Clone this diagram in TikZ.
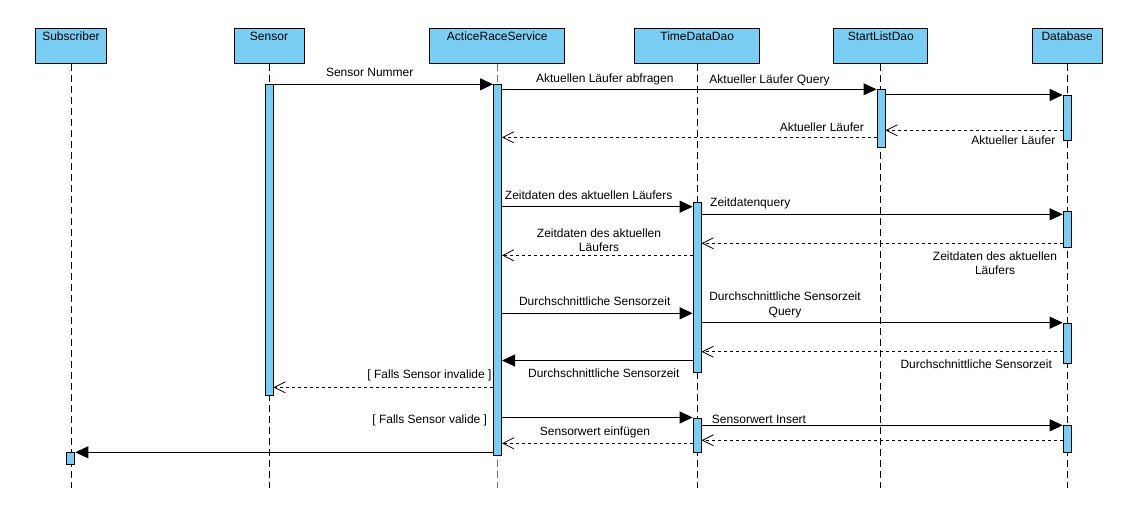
\documentclass[tikz,border=0pt]{standalone}
\usepackage{fontspec}
\setmainfont{Liberation Sans}
\usepackage{tikz}
\usetikzlibrary{arrows.meta}

\definecolor{lifeblue}{RGB}{122,206,244}

\tikzset{
  lane/.style={draw, fill=lifeblue, line width=1pt, anchor=north west, inner sep=0pt, minimum height=35pt, text height=12pt, text depth=23pt},
  act/.style={draw, fill=lifeblue, line width=1pt, anchor=north west, inner sep=0pt, minimum width=8pt},
  life/.style={line width=1pt, dash pattern=on 7pt off 4pt},
  call/.style={line width=1pt, -{Triangle[length=13pt,width=12pt]}},
  reply/.style={line width=0.8pt, dash pattern=on 3pt off 3pt, -{Straight Barb[length=11pt,width=11pt]}},
  msg/.style={inner sep=0pt, anchor=base},
  msgtwo/.style={inner sep=0pt, anchor=north, align=center},
}

\begin{document}
\begin{tikzpicture}[x=1pt, y=-1pt, font=\fontsize{12}{14.4}\selectfont]
\fill[white] (0,0) rectangle (1137,526);
\useasboundingbox (0,0) rectangle (1137,526);

\node[lane, minimum width=71pt] (sub) at (35,28.3) {Subscriber};
\node[lane, minimum width=70pt] (sen) at (233.5,28.3) {Sensor};
\node[lane, minimum width=135pt] (ars) at (429.3,28.3) {ActiceRaceService};
\node[lane, minimum width=124.5pt] (tdd) at (634.4,28.3) {TimeDataDao};
\node[lane, minimum width=94pt] (sld) at (833.3,28.3) {StartListDao};
\node[lane, minimum width=70pt] (db) at (1031.7,28.3) {Database};

\coordinate (end) at (0,488);
\draw[life] (sub.south) -- (sub.south |- end);
\draw[life] (sen.south) -- (sen.south |- end);
\draw[life, black!55] (ars.south) -- (ars.south |- end);
\draw[life] (tdd.south) -- (tdd.south |- end);
\draw[life] (sld.south) -- (sld.south |- end);
\draw[life] (db.south) -- (db.south |- end);

\node[act, minimum height=12pt] (sub1) at (66.3,452.3) {};
\node[act, minimum height=310.7pt] (sen1) at (264.5,84.3) {};
\node[act, minimum height=371pt] (ars1) at (493,84.3) {};
\node[act, minimum height=57.4pt] (sld1) at (876.5,89.3) {};
\node[act, minimum height=45.3pt] (db1) at (1062.7,95) {};
\node[act, minimum height=170.6pt] (tdd1) at (692.6,201.7) {};
\node[act, minimum height=36.6pt] (db2) at (1062.7,210.7) {};
\node[act, minimum height=40.6pt] (db3) at (1062.7,322.7) {};
\node[act, minimum height=34.8pt] (tdd2) at (692.6,417.5) {};
\node[act, minimum height=27pt] (db4) at (1062.7,425.3) {};

\coordinate (m4) at (0,130.3);
\coordinate (m5) at (0,137.3);
\coordinate (m6) at (0,206.7);
\coordinate (m7) at (0,214.3);
\coordinate (m8) at (0,243.3);
\coordinate (m9) at (0,255.3);
\coordinate (m10) at (0,313.3);
\coordinate (m12) at (0,351.7);
\coordinate (m13) at (0,360.5);
\coordinate (m14) at (0,387.3);
\coordinate (m17) at (0,440.3);
\coordinate (m18) at (0,443.3);

\draw[call] (sen1.north east) -- (ars1.north west);
\draw[call] (ars1.east |- sld1.north) -- (sld1.north west);
\draw[call] (sld1.east |- db1.north) -- (db1.north west);
\draw[reply] (db1.west |- m4) -- (sld1.east |- m4);
\draw[reply] (sld1.west |- m5) -- (ars1.east |- m5);

\draw[call] (ars1.east |- m6) -- (tdd1.west |- m6);
\draw[call] (tdd1.east |- m7) -- (db2.west |- m7);
\draw[reply] (db2.west |- m8) -- (tdd1.east |- m8);
\draw[reply] (tdd1.west |- m9) -- (ars1.east |- m9);

\draw[call] (ars1.east |- m10) -- (tdd1.west |- m10);
\draw[call] (tdd1.east |- db3.north) -- (db3.north west);
\draw[reply] (db3.west |- m12) -- (tdd1.east |- m12);
\draw[call] (tdd1.west |- m13) -- (ars1.east |- m13);
\draw[reply] (ars1.west |- m14) -- (sen1.east |- m14);

\draw[call] (ars1.east |- tdd2.north) -- (tdd2.north west);
\draw[call] (tdd2.east |- db4.north) -- (db4.north west);
\draw[reply] (db4.west |- m17) -- (tdd2.east |- m17);
\draw[reply] (tdd2.west |- m18) -- (ars1.east |- m18);
\draw[call] (ars1.west |- sub1.north) -- (sub1.north east);

\node[msg] (l1) at (369.7,77) {Sensor Nummer};
\node[msg] (l2) at (604.8,83) {Aktuellen Läufer abfragen};
\node[msg] (l3) at (769.5,84) {Aktueller Läufer Query};
\node[msg, anchor=base east] (l4) at (864,131.7) {Aktueller Läufer};
\node[msg] (l5) at (1013.3,145) {Aktueller Läufer};

\node[msg] (l6) at (588.7,199.7) {Zeitdaten des aktuellen Läufers};
\node[msg, anchor=base west] (l7) at (710,206.7) {Zeitdatenquery};
\node[msgtwo] (l8) at (599,228.5) {Zeitdaten des aktuellen\\Läufers};
\node[msgtwo] (l9) at (995,251.3) {Zeitdaten des aktuellen\\Läufers};

\node[msg] (l10) at (594.7,305.7) {Durchschnittliche Sensorzeit};
\node[msgtwo] (l11) at (785,292) {Durchschnittliche Sensorzeit\\Query};
\node[msg] (l12) at (976.2,368.3) {Durchschnittliche Sensorzeit};
\node[msg] (l13) at (603.8,377.7) {Durchschnittliche Sensorzeit};
\node[msg, anchor=base east] (l14) at (491.7,378) {[ Falls Sensor invalide ]};

\node[msg] (l15) at (429.7,423) {[ Falls Sensor valide ]};
\node[msg] (l16) at (759,423) {Sensorwert Insert};
\node[msg] (l17) at (595,435) {Sensorwert einfügen};
\end{tikzpicture}
\end{document}
